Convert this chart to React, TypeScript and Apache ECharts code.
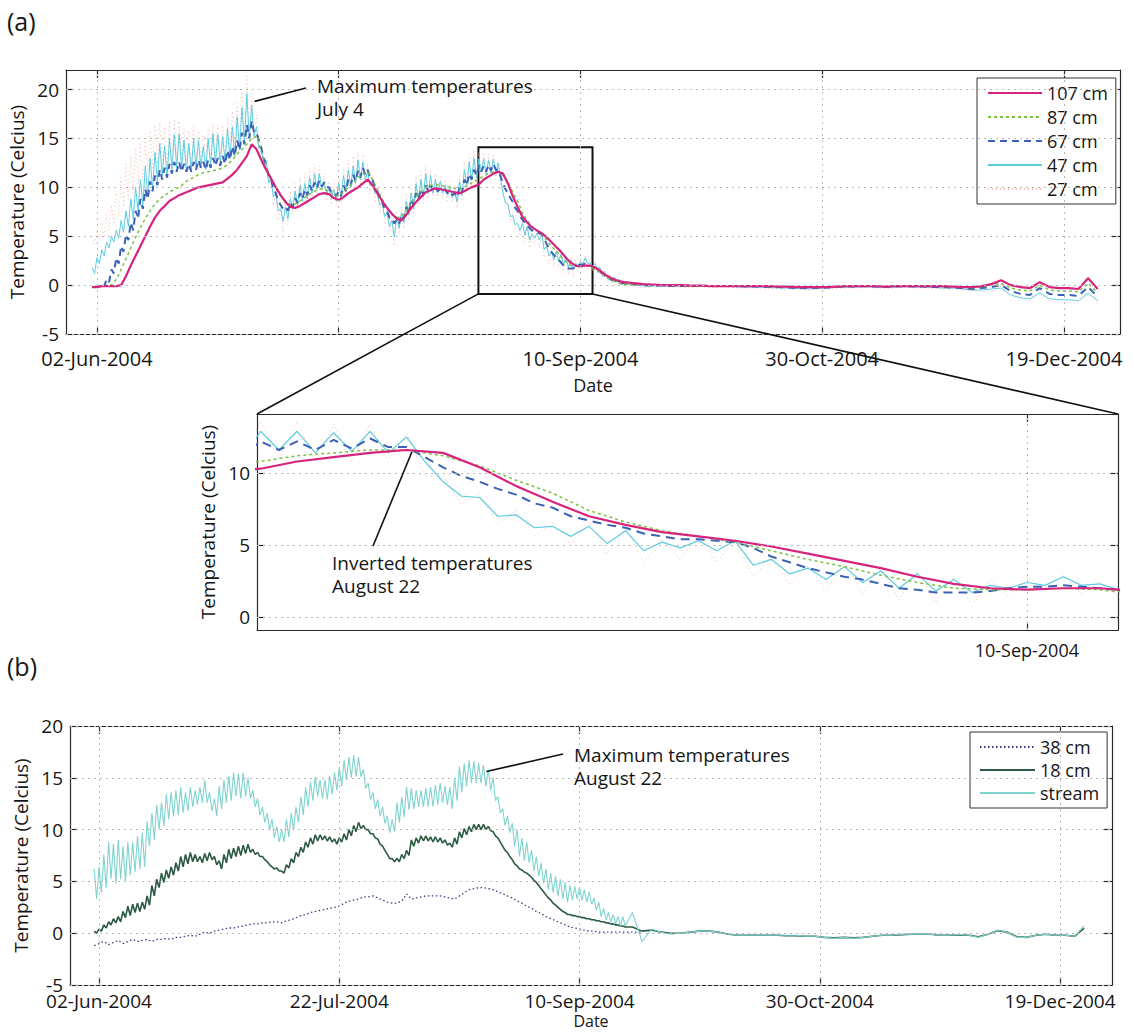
import React, { useEffect, useRef } from "react";
import * as echarts from "echarts";

const FONT = '"Open Sans", "Liberation Sans", sans-serif';

// x values are days since 1 Jun 2004
const TICK_DAYS = [1, 51, 101, 151, 201];
const TICK_LABELS = ["02-Jun-2004", "22-Jul-2004", "10-Sep-2004", "30-Oct-2004", "19-Dec-2004"];
const TOP_LABEL_DAYS = [1, 101, 151, 201];
const INSET_TICK_DAYS = [101];
const Y_TICKS = [-5, 0, 5, 10, 15, 20];
const INSET_Y_TICKS = [0, 5, 10];
const ZOOM_DAYS = [79.9, 103.5];
const ZOOM_TEMPS = [-0.9, 14.1];

const TOP_LEGEND = ["107 cm", "87 cm", "67 cm", "47 cm", "27 cm"];
const BOTTOM_LEGEND = ["38 cm", "18 cm", "stream"];

const SUMMER_START = 0;
const WINTER_START = 112;
const WINTER_STEP = 2;

// ---- Panel (a): daily values d0..d110 ----
const T107 = [
  -0.2, -0.2, -0.1, -0.1, -0.1, -0.1, 0.0, 0.9, 2.0, 3.0,
  4.0, 5.0, 6.0, 6.9, 7.6, 8.1, 8.6, 8.9, 9.2, 9.4,
  9.6, 9.8, 10.0, 10.1, 10.2, 10.3, 10.4, 10.5, 10.9, 11.3,
  11.8, 12.5, 13.2, 14.4, 13.9, 12.8, 11.8, 10.9, 10.0, 9.2,
  8.5, 8.0, 7.9, 8.1, 8.4, 8.7, 9.0, 9.3, 9.4, 9.3,
  8.9, 8.7, 9.0, 9.4, 9.7, 10.0, 10.4, 10.8, 10.2, 9.4,
  8.6, 7.9, 7.3, 6.8, 6.6, 7.2, 7.9, 8.5, 9.0, 9.5,
  9.7, 9.9, 9.8, 9.7, 9.6, 9.5, 9.4, 9.6, 9.9, 10.1,
  10.3, 10.8, 11.1, 11.4, 11.6, 11.4, 10.4, 9.1, 8.0, 7.0,
  6.4, 5.9, 5.6, 5.3, 4.9, 4.4, 3.9, 3.4, 2.8, 2.3,
  2.0, 1.9, 2.0, 2.0, 1.8, 1.5, 1.1, 0.8, 0.6, 0.4,
  0.3,
];
const T87 = [
  -0.2, -0.1, -0.1, 0.0, 0.0, 0.6, 1.6, 2.7, 3.8, 4.9,
  5.9, 6.8, 7.6, 8.3, 8.8, 9.2, 9.5, 9.8, 10.0, 10.4,
  10.8, 11.0, 11.3, 11.5, 11.6, 11.7, 11.8, 12.0, 12.3, 12.8,
  13.4, 13.9, 14.4, 15.0, 15.2, 13.6, 12.2, 10.9, 9.9, 9.1,
  8.6, 8.2, 8.3, 8.6, 9.0, 9.3, 9.6, 9.8, 9.8, 9.6,
  9.2, 9.1, 9.5, 10.0, 10.5, 11.0, 11.4, 11.6, 10.8, 9.8,
  8.8, 7.9, 7.2, 6.9, 7.0, 7.6, 8.4, 9.1, 9.6, 10.0,
  10.2, 10.3, 10.2, 10.1, 10.0, 9.9, 9.8, 10.0, 10.3, 10.6,
  10.8, 11.2, 11.4, 11.6, 11.6, 11.2, 10.5, 9.5, 8.6, 7.4,
  6.6, 6.0, 5.6, 5.2, 4.6, 4.0, 3.5, 2.9, 2.4, 2.0,
  1.9, 1.9, 2.0, 1.9, 1.6, 1.3, 0.9, 0.6, 0.4, 0.2,
  0.1,
];
// ---- Panel (a): half-day values (day max, night min) d0..d110 ----
const T67 = [
  -0.2, -0.2, -0.1, -0.2, 0.0, -0.1, 0.6, 0.3, 1.6, 1.2, 2.8, 2.2, 4.0, 3.4, 5.2, 4.6, 6.4, 5.6, 7.6, 6.8,
  8.8, 7.8, 9.8, 8.8, 10.6, 9.6, 11.2, 10.2, 11.8, 10.8, 12.0, 11.0, 12.4, 11.4, 12.6, 11.6, 12.6, 11.6, 12.4, 11.6,
  12.4, 11.6, 12.6, 11.8, 12.8, 12.0, 12.6, 11.8, 12.8, 12.0, 13.0, 12.2, 13.0, 12.2, 13.2, 12.4, 13.8, 12.8, 14.2, 13.2,
  14.8, 13.8, 15.6, 14.4, 16.4, 15.0, 16.8, 15.6, 15.6, 14.8, 14.0, 13.0, 12.2, 11.2, 10.8, 9.8, 9.4, 8.6, 8.2, 7.8,
  8.0, 7.6, 8.4, 8.0, 8.9, 8.4, 9.4, 8.8, 9.8, 9.2, 10.2, 9.6, 10.5, 9.9, 10.7, 10.1, 10.5, 10.0, 10.0, 9.5,
  9.5, 9.1, 9.6, 9.1, 10.2, 9.6, 10.8, 10.2, 11.3, 10.6, 11.7, 11.0, 12.0, 11.3, 11.8, 11.0, 10.8, 10.0, 9.6, 8.8,
  8.6, 7.8, 7.6, 6.9, 6.9, 6.3, 6.7, 6.3, 7.2, 6.8, 8.0, 7.4, 8.8, 8.2, 9.4, 8.8, 9.8, 9.2, 10.2, 9.6,
  10.2, 9.8, 10.0, 9.6, 9.9, 9.6, 9.8, 9.4, 9.6, 9.2, 9.4, 9.0, 10.0, 9.4, 10.8, 10.2, 11.4, 10.8, 11.8, 11.2,
  12.2, 11.6, 12.2, 11.6, 12.3, 11.7, 12.4, 11.8, 11.8, 11.1, 10.4, 9.8, 9.4, 8.9, 8.5, 7.9, 7.6, 7.0, 6.7, 6.4,
  6.2, 5.8, 5.6, 5.4, 5.4, 5.3, 5.2, 4.8, 4.2, 3.8, 3.4, 3.1, 2.8, 2.6, 2.3, 2.0, 1.9, 1.7, 1.7, 1.7,
  1.8, 2.0, 2.1, 2.1, 2.2, 2.1, 2.0, 1.9, 1.8, 1.6, 1.4, 1.2, 1.0, 0.8, 0.7, 0.5, 0.5, 0.3, 0.3, 0.2,
  0.2, 0.1,
];
const T47 = [
  1.8, 1.2, 2.8, 2.2, 3.6, 3.0, 4.4, 3.8, 5.0, 4.4, 5.6, 4.8, 6.6, 5.4, 7.6, 6.0, 8.8, 6.8, 10.0, 7.6,
  10.8, 8.2, 12.2, 9.2, 13.0, 9.8, 13.6, 10.6, 14.5, 11.2, 14.2, 11.0, 15.0, 11.8, 15.4, 12.0, 15.5, 12.0, 14.8, 11.6,
  14.5, 11.7, 15.0, 12.0, 14.8, 12.0, 14.2, 11.8, 15.0, 12.2, 15.5, 12.4, 15.4, 12.4, 15.2, 12.6, 16.0, 13.0, 16.2, 13.2,
  17.2, 13.8, 18.2, 14.5, 19.6, 15.0, 18.4, 15.2, 16.2, 14.0, 14.0, 12.4, 12.8, 10.5, 11.0, 9.0, 9.4, 7.6, 7.8, 6.5,
  8.0, 6.8, 8.8, 7.8, 9.6, 8.2, 10.2, 8.6, 10.4, 8.8, 11.0, 9.4, 11.4, 9.8, 11.4, 9.8, 10.6, 9.2, 10.0, 8.8,
  9.8, 8.6, 10.4, 9.0, 11.2, 9.6, 11.8, 10.0, 12.2, 10.4, 12.8, 10.8, 12.6, 10.8, 11.6, 10.2, 10.6, 9.4, 9.4, 8.2,
  8.4, 7.0, 7.4, 6.0, 6.6, 4.9, 7.0, 5.8, 7.4, 6.4, 8.6, 7.2, 9.4, 7.8, 10.4, 8.6, 10.8, 9.0, 11.4, 9.4,
  11.2, 9.4, 10.8, 9.4, 10.6, 9.4, 10.2, 9.2, 10.0, 9.0, 9.6, 8.5, 10.6, 9.2, 11.8, 10.2, 12.6, 10.8, 13.0, 11.0,
  12.9, 11.6, 12.9, 11.4, 12.8, 11.5, 12.9, 11.4, 12.5, 10.8, 9.4, 8.4, 8.3, 7.0, 7.1, 6.2, 6.3, 5.6, 6.3, 5.1,
  6.0, 4.6, 5.2, 4.8, 5.3, 4.6, 5.3, 3.6, 4.0, 3.0, 3.4, 2.6, 3.5, 2.4, 3.2, 2.0, 3.0, 1.8, 2.6, 1.7,
  2.2, 2.0, 2.4, 2.2, 2.8, 2.2, 2.3, 1.9, 2.2, 1.7, 1.8, 1.2, 1.4, 0.8, 1.0, 0.5, 0.8, 0.3, 0.6, 0.2,
  0.4, 0.1,
];
const T27 = [
  5.0, 4.2, 5.6, 4.6, 6.4, 5.0, 7.2, 5.6, 8.2, 6.2, 9.6, 7.0, 11.0, 8.0, 12.4, 8.8, 13.2, 9.4, 14.0, 10.2,
  14.6, 10.8, 15.4, 11.6, 15.8, 12.0, 16.4, 12.4, 16.6, 12.6, 16.2, 12.2, 16.8, 12.8, 17.0, 13.0, 16.8, 12.6, 16.0, 12.2,
  15.8, 12.4, 16.2, 12.6, 15.8, 12.8, 15.4, 12.4, 16.0, 13.0, 16.6, 13.2, 16.4, 13.2, 16.4, 13.4, 17.2, 13.8, 17.8, 14.0,
  18.6, 14.6, 20.0, 15.2, 21.4, 15.6, 19.8, 15.6, 17.4, 14.2, 15.0, 12.0, 13.2, 10.0, 11.2, 8.2, 9.4, 6.6, 8.0, 5.4,
  8.6, 6.2, 9.6, 7.2, 10.4, 7.6, 11.0, 8.0, 11.4, 8.2, 12.0, 8.8, 12.4, 9.2, 12.2, 9.2, 11.4, 8.6, 10.6, 8.2,
  10.4, 8.0, 11.2, 8.4, 12.0, 9.0, 12.8, 9.4, 13.2, 9.8, 13.6, 10.2, 13.4, 10.2, 12.4, 9.4, 11.2, 8.4, 10.0, 7.4,
  9.0, 6.2, 8.0, 5.2, 7.2, 4.0, 7.6, 5.2, 8.0, 5.8, 9.4, 6.6, 10.2, 7.2, 11.2, 8.0, 11.6, 8.4, 12.2, 8.8,
  11.8, 8.8, 11.4, 8.8, 11.2, 8.8, 10.8, 8.6, 10.6, 8.4, 10.2, 7.8, 11.2, 8.6, 12.6, 9.6, 13.4, 10.2, 13.8, 10.4,
  13.6, 11.0, 13.6, 10.8, 13.4, 10.8, 13.4, 10.8, 12.8, 9.8, 9.8, 7.8, 8.6, 6.4, 7.4, 5.6, 6.6, 5.0, 6.6, 4.4,
  6.2, 3.8, 5.4, 4.0, 5.6, 3.8, 5.4, 2.8, 4.2, 2.2, 3.6, 1.8, 3.8, 1.6, 3.4, 1.2, 3.2, 1.0, 2.8, 0.8,
  2.6, 1.4, 2.8, 1.8, 3.0, 1.6, 2.5, 1.4, 2.3, 1.2, 1.9, 0.8, 1.5, 0.4, 1.1, 0.2, 0.9, 0.0, 0.6, -0.1,
  0.4, -0.2,
];
// ---- Panel (a): every 2 days from d112 to d208 ----
const W107 = [
  0.2, 0.1, 0.05, 0.0, 0.0, 0.0, -0.05, -0.05, -0.1, -0.1,
  -0.1, -0.1, -0.1, -0.1, -0.1, -0.15, -0.15, -0.2, -0.2, -0.2,
  -0.2, -0.15, -0.1, -0.1, -0.1, -0.1, -0.15, -0.1, -0.1, -0.1,
  -0.1, -0.1, -0.1, -0.15, -0.2, -0.2, -0.1, 0.1, 0.5, 0.0,
  -0.2, -0.3, 0.3, -0.2, -0.3, -0.3, -0.4, 0.7, -0.4,
];
const W87 = [
  0.1, 0.0, 0.0, -0.05, -0.05, -0.05, -0.1, -0.1, -0.1, -0.1,
  -0.1, -0.1, -0.1, -0.1, -0.15, -0.15, -0.2, -0.2, -0.2, -0.25,
  -0.2, -0.2, -0.15, -0.1, -0.1, -0.1, -0.15, -0.15, -0.1, -0.1,
  -0.1, -0.1, -0.15, -0.2, -0.2, -0.3, -0.2, 0.0, 0.2, -0.3,
  -0.5, -0.6, 0.0, -0.5, -0.6, -0.6, -0.7, 0.2, -0.8,
];
const W67 = [
  0.1, 0.0, -0.05, -0.05, -0.1, -0.1, -0.1, -0.1, -0.1, -0.1,
  -0.1, -0.1, -0.15, -0.15, -0.2, -0.2, -0.25, -0.3, -0.3, -0.3,
  -0.25, -0.2, -0.15, -0.15, -0.1, -0.15, -0.2, -0.15, -0.1, -0.15,
  -0.15, -0.2, -0.2, -0.25, -0.3, -0.4, -0.3, -0.2, 0.0, -0.6,
  -0.9, -1.0, -0.3, -0.9, -1.0, -1.0, -1.1, -0.2, -1.2,
];
const W47 = [
  0.0, -0.05, -0.1, -0.1, -0.1, -0.1, -0.15, -0.1, -0.15, -0.15,
  -0.15, -0.2, -0.2, -0.2, -0.25, -0.3, -0.3, -0.35, -0.4, -0.35,
  -0.3, -0.25, -0.2, -0.2, -0.15, -0.2, -0.25, -0.2, -0.15, -0.2,
  -0.2, -0.25, -0.3, -0.3, -0.4, -0.5, -0.5, -0.4, -0.3, -1.0,
  -1.3, -1.4, -0.8, -1.4, -1.5, -1.5, -1.6, -0.8, -1.6,
];
const W27 = [
  -0.1, -0.2, -0.2, -0.15, -0.2, -0.2, -0.25, -0.2, -0.25, -0.2,
  -0.25, -0.3, -0.3, -0.3, -0.35, -0.4, -0.4, -0.45, -0.5, -0.45,
  -0.4, -0.35, -0.3, -0.3, -0.25, -0.3, -0.35, -0.3, -0.25, -0.3,
  -0.3, -0.35, -0.4, -0.4, -0.5, -0.6, -0.7, -0.6, -0.5, -1.2,
  -1.5, -1.6, -1.0, -1.6, -1.7, -1.8, -1.8, -1.0, -1.9,
];

// ---- Panel (b) ----
const T38 = [
  -1.2, -1.0, -0.8, -1.1, -0.9, -0.7, -1.0, -0.8, -0.6, -0.8,
  -0.7, -0.6, -0.8, -0.6, -0.6, -0.5, -0.6, -0.4, -0.4, -0.3,
  -0.2, -0.3, -0.1, 0.1, 0.0, 0.2, 0.3, 0.4, 0.5, 0.5,
  0.6, 0.7, 0.8, 0.9, 0.9, 1.0, 1.0, 1.1, 1.1, 1.0,
  1.2, 1.3, 1.5, 1.7, 1.8, 2.0, 2.1, 2.2, 2.3, 2.4,
  2.5, 2.6, 2.9, 3.1, 3.2, 3.3, 3.5, 3.5, 3.6, 3.4,
  3.2, 3.0, 2.9, 2.9, 3.1, 3.8, 3.3, 3.4, 3.5, 3.6,
  3.6, 3.6, 3.6, 3.5, 3.4, 3.3, 3.6, 3.9, 4.2, 4.3,
  4.4, 4.4, 4.3, 4.2, 4.0, 3.8, 3.6, 3.4, 3.1, 2.9,
  2.6, 2.4, 2.1, 1.9, 1.6, 1.4, 1.2, 1.0, 0.8, 0.6,
  0.5, 0.4, 0.3, 0.2, 0.2, 0.1, 0.1, 0.1, 0.1, 0.1,
  0.1, 0.1, 0.1, 0.1, 0.1,
];
const T18 = [
  0.2, 0.0, 0.4, 0.2, 0.8, 0.5, 1.1, 0.8, 1.4, 1.0, 1.6, 1.1, 2.1, 1.5, 2.6, 1.7, 2.8, 2.0, 2.9, 2.1,
  3.0, 2.3, 3.6, 2.7, 4.6, 3.6, 5.2, 4.4, 5.8, 4.9, 6.1, 5.3, 6.4, 5.6, 6.8, 6.0, 7.4, 6.4, 7.6, 6.7,
  7.8, 6.9, 7.6, 6.9, 7.4, 6.8, 7.7, 7.0, 7.8, 7.1, 7.4, 6.6, 7.0, 6.2, 7.6, 6.8, 8.1, 7.2, 8.2, 7.4,
  8.4, 7.5, 8.5, 7.7, 8.6, 7.8, 8.1, 7.6, 7.8, 7.4, 7.4, 7.1, 6.9, 6.6, 6.4, 6.2, 6.3, 6.0, 6.0, 5.8,
  6.6, 6.3, 7.2, 6.8, 7.8, 7.4, 8.3, 7.8, 8.8, 8.3, 9.2, 8.6, 9.5, 8.9, 9.5, 9.0, 9.4, 8.9, 9.3, 8.8,
  9.1, 8.6, 9.2, 8.8, 9.6, 9.0, 10.0, 9.4, 10.4, 9.8, 10.7, 10.1, 10.4, 10.0, 10.0, 9.6, 9.6, 9.2, 9.1, 8.6,
  8.4, 8.0, 7.6, 7.2, 7.2, 6.9, 7.2, 6.9, 7.6, 7.2, 8.0, 7.5, 9.0, 8.4, 9.2, 8.7, 9.4, 8.9, 9.4, 8.9,
  9.3, 8.8, 9.3, 8.8, 9.2, 8.7, 9.0, 8.5, 8.7, 8.3, 9.2, 8.6, 9.8, 9.2, 10.1, 9.5, 10.3, 9.8, 10.5, 10.0,
  10.5, 10.0, 10.5, 10.0, 10.3, 9.9, 9.8, 9.4, 9.2, 8.8, 8.4, 8.0, 7.8, 7.4, 7.1, 6.7, 6.5, 6.2, 6.1, 5.9,
  5.8, 5.6, 5.4, 5.1, 4.9, 4.6, 4.3, 4.0, 3.7, 3.4, 3.2, 2.9, 2.7, 2.5, 2.3, 2.1, 2.0, 1.8, 1.8, 1.7,
  1.7, 1.6, 1.6, 1.5, 1.5, 1.4, 1.4, 1.3, 1.3, 1.2, 1.2, 1.1, 1.1, 1.0, 1.0, 0.9, 0.9, 0.8, 0.8, 0.7,
  0.7, 0.6,
];
const TSTREAM = [
  6.2, 3.3, 6.4, 3.9, 7.6, 4.4, 8.8, 5.2, 8.6, 4.8, 9.0, 5.2, 8.4, 5.0, 8.8, 5.6, 8.8, 5.9, 9.4, 6.2,
  9.7, 6.4, 10.8, 8.4, 11.6, 9.0, 12.4, 10.0, 12.6, 10.3, 13.4, 11.0, 13.6, 11.3, 13.8, 11.4, 14.1, 11.6, 13.6, 11.8,
  14.1, 12.2, 13.8, 12.4, 14.1, 12.6, 14.8, 12.6, 13.6, 11.8, 13.0, 11.3, 14.2, 12.0, 14.8, 12.6, 15.2, 12.8, 15.5, 13.2,
  15.4, 13.0, 15.5, 13.2, 15.0, 13.0, 13.8, 12.2, 13.0, 11.4, 12.2, 10.7, 11.6, 10.0, 11.0, 9.2, 10.3, 8.8, 10.0, 8.8,
  11.0, 9.3, 11.6, 10.0, 12.2, 10.7, 13.2, 11.4, 14.1, 12.2, 14.6, 12.8, 15.1, 13.2, 14.8, 13.0, 14.8, 12.9, 15.2, 13.4,
  15.5, 13.8, 16.0, 14.2, 16.7, 14.8, 17.0, 15.0, 17.2, 15.1, 17.0, 15.1, 15.8, 14.0, 14.5, 12.9, 13.6, 12.0, 12.9, 11.3,
  12.2, 10.6, 11.3, 9.7, 11.0, 9.8, 12.6, 10.7, 13.2, 11.2, 14.1, 11.9, 14.0, 12.0, 13.8, 12.2, 13.8, 12.2, 14.0, 12.2,
  14.1, 12.2, 14.3, 12.4, 14.5, 12.6, 14.2, 12.4, 14.1, 12.0, 15.0, 12.8, 16.1, 13.6, 16.4, 14.2, 16.7, 14.5, 16.6, 14.5,
  16.4, 14.5, 16.2, 14.2, 15.8, 13.8, 15.0, 12.8, 13.2, 11.6, 12.0, 10.4, 11.3, 9.7, 10.6, 8.4, 10.0, 7.4, 9.2, 7.0,
  8.8, 6.8, 8.0, 6.0, 7.4, 5.5, 6.8, 4.8, 6.2, 4.2, 5.8, 3.9, 5.5, 3.6, 5.2, 3.3, 4.9, 3.0, 4.6, 3.2,
  4.5, 3.3, 4.4, 3.2, 4.2, 3.0, 4.0, 2.8, 3.4, 2.2, 3.0, 1.6, 2.4, 1.3, 2.0, 1.1, 1.8, 0.9, 1.6, 0.7,
  1.6, 0.7,
];
// every 2 days from d112 to d206
const WSTREAM = [
  2.0, -0.8, 0.4, 0.1, -0.1, 0.0, 0.1, 0.2, 0.2, 0.1,
  -0.1, -0.2, -0.2, -0.2, -0.2, -0.2, -0.2, -0.2, -0.3, -0.3,
  -0.4, -0.5, -0.4, -0.5, -0.4, -0.3, -0.2, -0.2, -0.1, -0.1,
  -0.1, -0.1, -0.2, -0.2, -0.1, -0.2, -0.4, -0.1, 0.3, 0.1,
  -0.4, -0.4, -0.2, -0.1, -0.2, -0.2, -0.3, 0.7,
];
const W18 = [
  0.6, 0.2, 0.3, 0.1, 0.0, 0.0, 0.1, 0.2, 0.2, 0.1,
  -0.1, -0.2, -0.2, -0.2, -0.2, -0.2, -0.25, -0.25, -0.3, -0.3,
  -0.4, -0.45, -0.4, -0.45, -0.4, -0.3, -0.2, -0.2, -0.15, -0.1,
  -0.1, -0.1, -0.2, -0.2, -0.15, -0.2, -0.35, -0.1, 0.25, 0.1,
  -0.35, -0.4, -0.2, -0.1, -0.2, -0.2, -0.3, 0.5,
];

function build(summer: number[], step: number, winter: number[]) {
  const out: number[][] = [];
  for (let i = 0; i < summer.length; i++) out.push([SUMMER_START + i * step, summer[i]]);
  for (let j = 0; j < winter.length; j++) out.push([WINTER_START + j * WINTER_STEP, winter[j]]);
  return out;
}

const D107 = build(T107, 1, W107);
const D87 = build(T87, 1, W87);
const D67 = build(T67, 0.5, W67);
const D47 = build(T47, 0.5, W47);
const D27 = build(T27, 0.5, W27);
const D38 = build(T38, 1, []);
const D18 = build(T18, 0.5, W18);
const DSTREAM = build(TSTREAM, 0.5, WSTREAM);

const AX = { color: "#2a2a2a", width: 1.2 };
const TXT = "#161616";
const fmt = (v: number) => {
  const i = TICK_DAYS.indexOf(Math.round(v));
  return i >= 0 ? TICK_LABELS[i] : "";
};

function xPair(gridIndex: number, min: number, max: number, tickDays: number[], labelDays: number[], fontSize: number, margin: number) {
  const tick = { show: true, inside: true, length: 8, customValues: tickDays, lineStyle: AX };
  return [
    {
      type: "value", gridIndex, min, max, position: "bottom",
      axisLine: { show: true, onZero: false, lineStyle: AX },
      axisTick: tick,
      axisLabel: { show: true, customValues: labelDays, formatter: fmt, margin, fontSize, lineHeight: fontSize, color: TXT, fontFamily: FONT },
      splitLine: { show: false },
    },
    {
      type: "value", gridIndex, min, max, position: "top",
      axisLine: { show: true, onZero: false, lineStyle: AX },
      axisTick: tick, axisLabel: { show: false }, splitLine: { show: false },
    },
  ];
}
function yPair(gridIndex: number, min: number, max: number, ticks: number[], nameGap: number) {
  const tick = { show: true, inside: true, length: 8, customValues: ticks, lineStyle: AX };
  return [
    {
      type: "value", gridIndex, min, max, position: "left",
      axisLine: { show: true, onZero: false, lineStyle: AX },
      axisTick: tick,
      axisLabel: { show: true, customValues: ticks, margin: 7, fontSize: 19, lineHeight: 16, color: TXT, fontFamily: FONT },
      splitLine: { show: false },
      name: "Temperature (Celcius)", nameLocation: "middle", nameRotate: 90, nameGap,
      nameTextStyle: { fontSize: 19, color: TXT, fontFamily: FONT },
    },
    {
      type: "value", gridIndex, min, max, position: "right",
      axisLine: { show: true, onZero: false, lineStyle: AX },
      axisTick: tick, axisLabel: { show: false }, splitLine: { show: false },
    },
  ];
}

const gridLines = (xs: number[], ys: number[]) => ({
  silent: true, symbol: ["none", "none"], label: { show: false }, animation: false,
  lineStyle: { color: "#b8b8b8", type: [2, 4], width: 1 },
  emphasis: { disabled: true },
  data: [...xs.map((d) => ({ xAxis: d })), ...ys.map((v) => ({ yAxis: v }))],
});

function line(name: string, data: number[][], axis: number, color: string, width: number, type: any, extra: any = {}) {
  return {
    type: "line", name, data, xAxisIndex: axis, yAxisIndex: axis,
    showSymbol: false, symbol: "none", silent: true, animation: false, clip: true,
    lineStyle: { color, width, type }, itemStyle: { color },
    emphasis: { disabled: true },
    ...extra,
  };
}

const C107 = "#d6247e", C87 = "#7cc242", C67 = "#3c62b5", C47 = "#5ccde0", C27 = "#f6b8b0";
const C38 = "#3b3f80", C18 = "#2c5a43", CST = "#7fd4cf";

function panelA(axis: number, inset: boolean, extra27: any, extra107: any) {
  return [
    line("27 cm", D27, axis, C27, 0.9, [1, 3], extra27),
    line("47 cm", D47, axis, C47, inset ? 1.2 : 1, "solid"),
    line("67 cm", D67, axis, C67, 2, inset ? [9, 6] : [7, 5]),
    line("87 cm", D87, axis, C87, 1.5, [3, 3]),
    line("107 cm", D107, axis, C107, 2.2, "solid", extra107),
  ];
}

const HIDDEN_SYMBOL = { color: "rgba(0,0,0,0)", borderColor: "rgba(0,0,0,0)", borderWidth: 0, opacity: 0 };

const option: any = {
  animation: false,
  backgroundColor: "#ffffff",
  grid: [
    { left: 66, top: 70, width: 1054, height: 264, outerBoundsMode: "none" },
    { left: 257, top: 414, width: 861, height: 216, outerBoundsMode: "none" },
    { left: 70, top: 726, width: 1042, height: 259, outerBoundsMode: "none" },
  ],
  xAxis: [
    ...xPair(0, -5.4, 212.6, TICK_DAYS, TOP_LABEL_DAYS, 20, 14),
    ...xPair(1, ZOOM_DAYS[0], ZOOM_DAYS[1], INSET_TICK_DAYS, INSET_TICK_DAYS, 18, 11),
    ...xPair(2, -5.04, 211.8, TICK_DAYS, TICK_DAYS, 19, 6),
  ],
  yAxis: [
    ...yPair(0, -5, 22, Y_TICKS, 36),
    ...yPair(1, ZOOM_TEMPS[0], ZOOM_TEMPS[1], INSET_Y_TICKS, 35),
    ...yPair(2, -5, 20, Y_TICKS, 38),
  ],
  legend: [
    {
      data: TOP_LEGEND, orient: "vertical", left: 977, top: 78,
      itemWidth: 54, itemHeight: 14, itemGap: 6, padding: [6, 8, 6, 10],
      borderColor: "#333", borderWidth: 1, backgroundColor: "#fff",
      itemStyle: HIDDEN_SYMBOL,
      textStyle: { fontSize: 18, color: TXT, fontFamily: FONT }, selectedMode: false,
    },
    {
      data: BOTTOM_LEGEND, orient: "vertical", left: 970, top: 732,
      itemWidth: 55, itemHeight: 14, itemGap: 5, padding: [6, 8, 6, 9],
      borderColor: "#333", borderWidth: 1, backgroundColor: "#fff",
      itemStyle: HIDDEN_SYMBOL,
      textStyle: { fontSize: 18, color: TXT, fontFamily: FONT }, selectedMode: false,
    },
  ],
  series: [
    ...panelA(0, false, { markLine: gridLines(TICK_DAYS, Y_TICKS) }, {
      markArea: {
        silent: true, animation: false,
        itemStyle: { color: "rgba(0,0,0,0)", borderColor: "#111", borderWidth: 2 },
        data: [[{ xAxis: ZOOM_DAYS[0], yAxis: ZOOM_TEMPS[0] }, { xAxis: ZOOM_DAYS[1], yAxis: ZOOM_TEMPS[1] }]],
      },
    }),
    ...panelA(2, true, { markLine: gridLines(INSET_TICK_DAYS, INSET_Y_TICKS) }, {}),
    line("38 cm", D38, 4, C38, 1.3, [1.5, 2.5], { markLine: gridLines(TICK_DAYS, Y_TICKS) }),
    line("18 cm", D18, 4, C18, 1.6, "solid"),
    line("stream", DSTREAM, 4, CST, 1.1, "solid"),
  ],
};

export default function App() {
  const ref = useRef<HTMLDivElement>(null);
  useEffect(() => {
    if (!ref.current) return;
    const chart = echarts.init(ref.current, null, { renderer: "svg" });
    chart.setOption(option);
    const px = (si: number, pt: number[]) => chart.convertToPixel({ seriesIndex: si }, pt) as unknown as number[];
    const zBL = px(4, [ZOOM_DAYS[0], ZOOM_TEMPS[0]]);
    const zBR = px(4, [ZOOM_DAYS[1], ZOOM_TEMPS[0]]);
    const iTL = px(9, [ZOOM_DAYS[0], ZOOM_TEMPS[1]]);
    const iTR = px(9, [ZOOM_DAYS[1], ZOOM_TEMPS[1]]);
    const aPeak = px(1, [33.2, 19.2]);
    const aInv = px(9, [84.2, 11.6]);
    const bPeak = px(12, [81.6, 15.6]);
    const topMid = px(4, [(-5.4 + 212.6) / 2, -5]);
    const botMid = px(12, [(-5.04 + 211.8) / 2, -5]);
    const stroke = { stroke: "#111", lineWidth: 1.6 };
    const txt = (text: string, x: number, y: number, size: number, extra: any = {}) => ({
      type: "text", silent: true, z: 100,
      style: { text, x, y, fill: TXT, fontSize: size, fontFamily: FONT, lineHeight: 23, verticalAlign: "top", ...extra },
    });
    const seg = (a: number[], b: number[]) => ({
      type: "line", silent: true, z: 100,
      shape: { x1: a[0], y1: a[1], x2: b[0], y2: b[1] }, style: stroke,
    });
    chart.setOption({
      graphic: [
        txt("(a)", 7, 7, 25, { lineHeight: 28 }),
        txt("(b)", 7, 652, 25, { lineHeight: 28 }),
        seg(zBL, iTL),
        seg(zBR, iTR),
        seg([aPeak[0] + 2, aPeak[1] + 4], [306, 88]),
        txt("Maximum temperatures\nJuly 4", 317, 74, 19),
        seg([aInv[0] - 2, aInv[1] + 2], [373, 546]),
        txt("Inverted temperatures\nAugust 22", 332, 551, 19),
        seg(bPeak, [563, 754]),
        txt("Maximum temperatures\nAugust 22", 574, 743, 19),
        txt("Date", topMid[0], 376, 18, { align: "center", lineHeight: 18 }),
        txt("Date", botMid[0], 1013, 16, { align: "center", lineHeight: 16 }),
      ],
    });
    return () => chart.dispose();
  }, []);
  return (
    <div
      ref={ref}
      style={{ position: "absolute", left: 0, top: 0, width: 1134, height: 1032, background: "#fff" }}
    />
  );
}
